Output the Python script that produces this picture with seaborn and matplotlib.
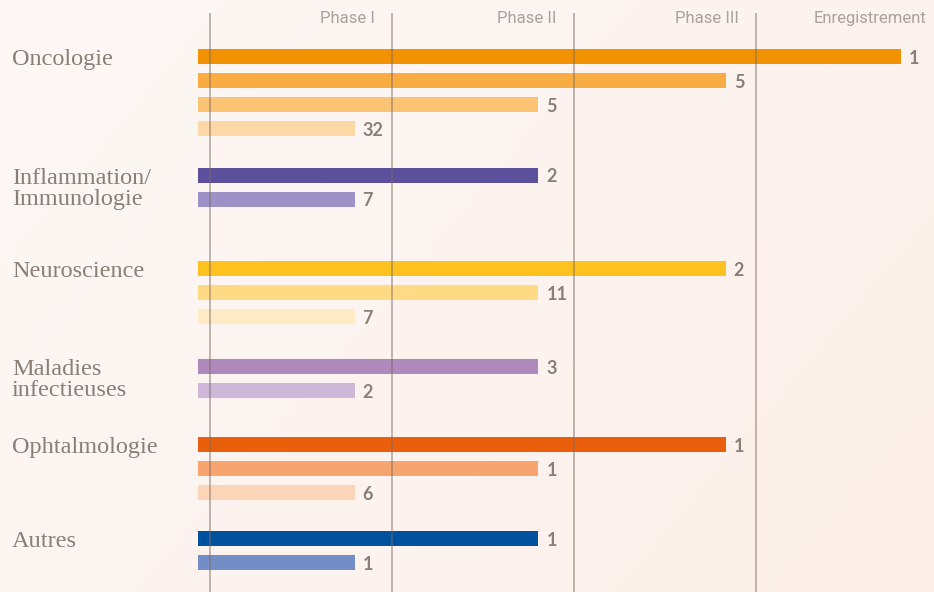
import numpy as np
import pandas as pd
import matplotlib
matplotlib.use("Agg")
import matplotlib.pyplot as plt
import matplotlib.transforms as mtransforms
from matplotlib.colors import to_rgb
import seaborn as sns

# ---------------- data ----------------
categories = ["Oncologie", "Inflammation/\nImmunologie", "Neuroscience",
              "Maladies\ninfectieuses", "Ophtalmologie", "Autres"]
phase_labels = ["Phase I", "Phase II", "Phase III", "Enregistrement"]

# furthest phase reached by each bar (1 = Phase I ... 4 = Enregistrement)
onc_phase = [4, 3, 2, 1]
onc_counts = [1, 5, 5, 32]
inf_phase = [2, 1]
inf_counts = [2, 7]
neu_phase = [3, 2, 1]
neu_counts = [2, 11, 7]
mal_phase = [2, 1]
mal_counts = [3, 2]
oph_phase = [3, 2, 1]
oph_counts = [1, 1, 6]
aut_phase = [2, 1]
aut_counts = [1, 1]

# bar length for each phase (in phase units)
phase_bar_length = [0.86, 1.87, 2.90, 3.86]

onc_colors = ["#f39200", "#f8ac42", "#fbc374", "#fdd8a4"]
inf_colors = ["#5c4f9c", "#9d92c7"]
neu_colors = ["#fdc220", "#ffda85", "#feebc5"]
mal_colors = ["#af89bb", "#cfb7da"]
oph_colors = ["#ea5f0b", "#f5a56d", "#fcd4b8"]
aut_colors = ["#00519e", "#738dc6"]

groups = [
    (onc_phase, onc_counts, onc_colors),
    (inf_phase, inf_counts, inf_colors),
    (neu_phase, neu_counts, neu_colors),
    (mal_phase, mal_counts, mal_colors),
    (oph_phase, oph_counts, oph_colors),
    (aut_phase, aut_counts, aut_colors),
]

# ---------------- layout ----------------
W, H, DPI = 934, 592, 100
GROUP_TOP = [56.5, 175.5, 268.5, 366.5, 444.5, 538.5]  # pixel rows (from top)
ROW_PITCH = 24
BAR_H = 15
X0_PX, PHASE_PX = 198, 182
TEXT_COL = "#8b7e76"
LABEL_LINE_PITCH = 21.5

rows = []
for gi, (phases, counts, cols) in enumerate(groups):
    for ri, (p, c, col) in enumerate(zip(phases, counts, cols)):
        rows.append(dict(group=categories[gi], row=f"{gi}-{ri}", phase=p,
                         count=c, color=col,
                         length=phase_bar_length[p - 1],
                         y=GROUP_TOP[gi] + ri * ROW_PITCH))
df = pd.DataFrame(rows)

sns.set_theme(style="white")
fig = plt.figure(figsize=(W / DPI, H / DPI), dpi=DPI)

# background gradient
bg = fig.add_axes([0, 0, 1, 1], zorder=-10)
c1 = np.array(to_rgb("#fdf8f6"))
c2 = np.array(to_rgb("#fcefe9"))
yy, xx = np.mgrid[0:1:120j, 0:1:200j]
t = np.clip(0.65 * xx + 0.35 * yy, 0, 1)[..., None]
bg.imshow(c1 * (1 - t) + c2 * t, aspect="auto", extent=[0, 1, 1, 0])
bg.set_axis_off()

ax = fig.add_axes([0, 0, 1, 1])
ax.set_facecolor("none")

sns.barplot(data=df, x="length", y="y", hue="row", orient="h",
            native_scale=True, dodge=False, saturation=1,
            palette=dict(zip(df["row"], df["color"])),
            width=BAR_H / ROW_PITCH, legend=False, linewidth=0,
            ax=ax, zorder=2)

ax.set_xlim(-X0_PX / PHASE_PX, (W - X0_PX) / PHASE_PX)
ax.set_ylim(H, 0)
ax.set_axis_off()

# phase separator lines
line_x = [i + 0.066 for i in range(4)]
ax.vlines(line_x, 13, H, color="#7d6b62", alpha=0.6, lw=1.1, zorder=3)

# phase labels
label_x = [0.97, 1.97, 2.97, 4.0]
for lx, lab in zip(label_x, phase_labels):
    ax.text(lx, 23, lab, ha="right", va="baseline", color="#aca098",
            fontsize=12, family="Roboto", fontweight="normal")

# value labels
for _, r in df.iterrows():
    ax.annotate(str(r["count"]), (r["length"], r["y"]),
                xytext=(8, -7), textcoords="offset pixels",
                ha="left", va="baseline", color=TEXT_COL,
                fontsize=13, family="Lato", fontweight="bold", zorder=4)

# category labels (one text per line, first line beside the first bar)
trans = mtransforms.blended_transform_factory(fig.transFigure, ax.transData)
for gi, cat in enumerate(categories):
    for li, line in enumerate(cat.split("\n")):
        ax.text(12 / W, GROUP_TOP[gi] + 8.5 + li * LABEL_LINE_PITCH, line,
                transform=trans, ha="left", va="baseline", color=TEXT_COL,
                fontsize=17.5, family="Liberation Serif")

fig.savefig("out.png", dpi=DPI)
